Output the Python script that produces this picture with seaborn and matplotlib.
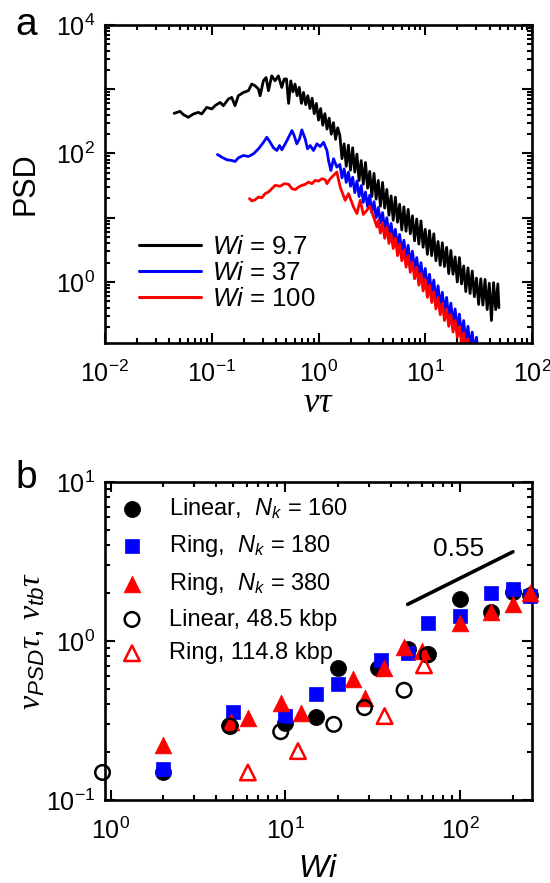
import numpy as np
import matplotlib
matplotlib.use("Agg")
import matplotlib.pyplot as plt
import matplotlib.ticker as mticker
import seaborn as sns

# ---------------- Panel a: PSD curves (log10 values) ----------------
wi97_log_nutau = [-1.353, -1.297, -1.266, -1.219, -1.172, -1.126, -1.094, -1.047, -1.0, -0.969,
                  -0.922, -0.891, -0.844, -0.813, -0.782, -0.751, -0.704, -0.657, -0.625, -0.594,
                  -0.563, -0.547, -0.516, -0.491, -0.469, -0.438, -0.407, -0.376, -0.344, -0.322,
                  -0.30, -0.28, -0.26, -0.24, -0.22, -0.20, -0.18, -0.16, -0.14, -0.12,
                  -0.10, -0.08, -0.06, -0.04, -0.02, 0.00, 0.02, 0.04, 0.06, 0.08,
                  0.10, 0.12, 0.14, 0.16, 0.18,
                  0.20, 0.22, 0.24, 0.26, 0.28, 0.30, 0.32, 0.34, 0.36, 0.38,
                  0.40, 0.42, 0.44, 0.46, 0.48, 0.50, 0.52, 0.54, 0.56, 0.58,
                  0.60, 0.62, 0.64, 0.66, 0.68, 0.70, 0.72, 0.74, 0.76, 0.78,
                  0.80, 0.82, 0.84, 0.86, 0.88, 0.90, 0.92, 0.94, 0.96, 0.98,
                  1.00, 1.02, 1.04, 1.06, 1.08, 1.10, 1.12, 1.14, 1.16, 1.18,
                  1.20, 1.22, 1.24, 1.26, 1.28, 1.30, 1.32, 1.34, 1.36, 1.38,
                  1.40, 1.42, 1.44, 1.46, 1.48, 1.50, 1.52, 1.54, 1.56, 1.58,
                  1.60, 1.62, 1.64, 1.66, 1.68, 1.69]
wi97_log_psd = [2.625, 2.656, 2.605, 2.563, 2.615, 2.640, 2.615, 2.718, 2.693, 2.744,
                2.795, 2.744, 2.848, 2.873, 2.744, 2.899, 2.950, 2.977, 3.081, 3.054,
                3.003, 2.899, 3.132, 3.183, 2.977, 3.209, 3.132, 3.209, 3.028, 3.158,
                3.16, 2.78, 3.13, 2.96, 3.08, 2.90, 3.03, 2.78, 2.95, 2.76,
                2.90, 2.70, 2.86, 2.62, 2.78, 2.52, 2.70, 2.44, 2.62, 2.38,
                2.55, 2.30, 2.48, 2.22, 2.40,
                2.28, 1.92, 2.15, 1.80, 2.13, 1.74, 2.09, 1.71, 1.99, 1.58,
                1.89, 1.52, 1.86, 1.46, 1.72, 1.33, 1.69, 1.29, 1.58, 1.18,
                1.55, 1.15, 1.44, 1.04, 1.34, 0.96, 1.32, 0.93, 1.21, 0.81,
                1.17, 0.79, 1.13, 0.75, 1.03, 0.64, 0.98, 0.59, 0.95, 0.54,
                0.82, 0.43, 0.80, 0.41, 0.75, 0.33, 0.63, 0.26, 0.61, 0.24,
                0.54, 0.13, 0.49, 0.12, 0.39, 0.00, 0.38, -0.03, 0.25, -0.15,
                0.22, -0.18, 0.17, -0.23, 0.06, -0.35, 0.05, -0.36, 0.04, -0.43,
                -0.02, -0.60, -0.01, -0.43, -0.03, -0.40]

wi37_log_nutau = [-0.947, -0.906, -0.859, -0.812, -0.781, -0.750, -0.703, -0.656, -0.609, -0.562,
                  -0.515, -0.484, -0.453, -0.422, -0.390, -0.365, -0.343, -0.312, -0.287, -0.249,
                  -0.228, -0.203, -0.178, -0.156, -0.125, -0.103, -0.078, -0.047, -0.015, 0.016,
                  0.047, 0.079, 0.094, 0.116, 0.141, 0.172,
                  0.20, 0.22, 0.24, 0.26, 0.28, 0.30, 0.32, 0.34, 0.36, 0.38,
                  0.40, 0.42, 0.44, 0.46, 0.48, 0.50, 0.52, 0.54, 0.56, 0.58,
                  0.60, 0.62, 0.64, 0.66, 0.68, 0.70, 0.72, 0.74, 0.76, 0.78,
                  0.80, 0.82, 0.84, 0.86, 0.88, 0.90, 0.92, 0.94, 0.96, 0.98,
                  1.00, 1.02, 1.04, 1.06, 1.08, 1.10, 1.12, 1.14, 1.16, 1.18,
                  1.20, 1.22, 1.24, 1.26, 1.28, 1.30, 1.32, 1.34, 1.36, 1.38,
                  1.40, 1.42, 1.44, 1.46, 1.48, 1.50]
wi37_log_psd = [1.984, 1.943, 1.902, 1.891, 1.876, 1.933, 1.969, 1.953, 1.995, 2.073,
                2.175, 2.253, 2.175, 2.088, 2.047, 2.124, 2.057, 2.150, 2.228, 2.357,
                2.279, 2.150, 2.228, 2.367, 2.228, 2.073, 2.124, 2.047, 2.150, 2.109,
                2.175, 2.047, 1.891, 1.736, 1.918, 1.787,
                1.83, 1.62, 1.76, 1.55, 1.71, 1.49, 1.63, 1.39, 1.57, 1.33,
                1.50, 1.24, 1.40, 1.17, 1.35, 1.08, 1.25, 1.00, 1.16, 0.92,
                1.08, 0.82, 1.00, 0.73, 0.91, 0.65, 0.82, 0.55, 0.74, 0.47,
                0.65, 0.37, 0.57, 0.28, 0.48, 0.19, 0.38, 0.09, 0.30, 0.00,
                0.21, -0.10, 0.12, -0.19, 0.03, -0.29, -0.06, -0.39, -0.16, -0.47,
                -0.24, -0.56, -0.33, -0.65, -0.42, -0.74, -0.50, -0.84, -0.60, -0.93,
                -0.69, -1.02, -0.78, -1.10, -0.86, -1.18]

wi100_log_nutau = [-0.647, -0.624, -0.593, -0.562, -0.531, -0.500, -0.469, -0.437, -0.406, -0.359,
                   -0.321, -0.280, -0.249, -0.218, -0.187, -0.156, -0.125, -0.094, -0.062, -0.031,
                   0.0, 0.032, 0.063, 0.079, 0.110, 0.141, 0.172,
                   0.203, 0.250, 0.281, 0.328, 0.360, 0.391, 0.42, 0.453, 0.48, 0.516, 0.547,
                   0.56, 0.58, 0.60, 0.62, 0.64, 0.66, 0.68, 0.70, 0.72, 0.74,
                   0.76, 0.78, 0.80, 0.82, 0.84, 0.86, 0.88, 0.90, 0.92, 0.94,
                   0.96, 0.98, 1.00, 1.02, 1.04, 1.06, 1.08, 1.10, 1.12, 1.14,
                   1.16, 1.18, 1.20, 1.22, 1.24, 1.26, 1.28, 1.30, 1.32, 1.34,
                   1.36, 1.38, 1.40, 1.42]
wi100_log_psd = [1.298, 1.261, 1.28, 1.323, 1.31, 1.375, 1.400, 1.452, 1.504, 1.49,
                 1.530, 1.52, 1.452, 1.437, 1.478, 1.504, 1.519, 1.555, 1.53, 1.581,
                 1.57, 1.608, 1.59, 1.530, 1.608, 1.659, 1.710,
                 1.478, 1.271, 1.375, 1.167, 1.065, 1.271, 1.05, 1.116, 1.18, 1.012, 0.857,
                 0.96, 0.76, 0.92, 0.68, 0.85, 0.60, 0.75, 0.52, 0.68, 0.41,
                 0.59, 0.33, 0.50, 0.23, 0.41, 0.15, 0.31, 0.05, 0.23, -0.05,
                 0.13, -0.14, 0.04, -0.24, -0.05, -0.32, -0.15, -0.42, -0.24, -0.51,
                 -0.33, -0.60, -0.42, -0.69, -0.51, -0.78, -0.60, -0.86, -0.69, -0.96,
                 -0.79, -1.05, -0.88, -1.12]

psd_labels = [r"$\mathsf{Wi}$ = 9.7", r"$\mathsf{Wi}$ = 37", r"$\mathsf{Wi}$ = 100"]
psd_colors = ["#000000", "#0000FF", "#FF0000"]

# ---------------- Panel b: characteristic frequencies ----------------
wi_lin160 = [2, 4.8, 10, 15, 20, 34, 50, 65, 100, 150, 200, 250]
nu_lin160 = [0.149, 0.292, 0.306, 0.334, 0.68, 0.68, 0.887, 0.824, 1.85, 1.53, 2.04, 1.94]
wi_ring180 = [2, 5, 10, 15, 20, 35, 50, 65, 100, 150, 200, 250]
nu_ring180 = [0.156, 0.36, 0.337, 0.466, 0.539, 0.76, 0.845, 1.29, 1.44, 2.01, 2.13, 1.92]
wi_ring380 = [2, 4.9, 6.1, 9.4, 12.2, 24.4, 28.6, 36.5, 47.5, 60.7, 100, 150, 200, 250]
nu_ring380 = [0.222, 0.31, 0.328, 0.41, 0.355, 0.58, 0.44, 0.68, 0.915, 0.865, 1.30, 1.52, 1.72, 2.0]
wi_lin485 = [0.9, 4.8, 9.4, 18.9, 28.3, 47.7, 64.8]
nu_lin485 = [0.149, 0.292, 0.269, 0.299, 0.381, 0.49, 0.817]
wi_ring1148 = [6.1, 11.8, 36.9, 62]
nu_ring1148 = [0.149, 0.203, 0.337, 0.703]
b_labels = [r"Linear,  $\mathsf{N_k}$ = 160", r"Ring,  $\mathsf{N_k}$ = 180",
            r"Ring,  $\mathsf{N_k}$ = 380", "Linear, 48.5 kbp", "Ring, 114.8 kbp"]
slope_wi = [50, 200]
slope_nu = [1.70, 3.64]
slope_label = "0.55"

# ---------------- style ----------------
sns.set_style("ticks")
plt.rcParams['font.family'] = ['Liberation Sans', 'DejaVu Sans']
plt.rcParams['mathtext.fontset'] = 'custom'
plt.rcParams['mathtext.rm'] = 'Liberation Sans'
plt.rcParams['mathtext.it'] = 'Liberation Serif:italic'
plt.rcParams['mathtext.sf'] = 'Liberation Sans:italic'
plt.rcParams['mathtext.bf'] = 'Liberation Sans:bold'
plt.rcParams['axes.linewidth'] = 1.8
for key in ['text.color', 'axes.labelcolor', 'xtick.color', 'ytick.color', 'axes.edgecolor']:
    plt.rcParams[key] = 'black'

fig = plt.figure(figsize=(5.5, 8.83), dpi=100)
W, H = 550.0, 883.0
axA = fig.add_axes([105 / W, 1 - 343 / H, 427 / W, 318 / H])
axB = fig.add_axes([105 / W, 1 - 800 / H, 427 / W, 318 / H])


def sci(v, pos):
    e = int(np.round(np.log10(v)))
    return r'$\mathdefault{10^{%d}}$' % e


def sci_even(v, pos):
    e = int(np.round(np.log10(v)))
    if e % 2:
        return ''
    return r'$\mathdefault{10^{%d}}$' % e


# ---- panel a ----
for lx, ly, lab, col in zip([wi97_log_nutau, wi37_log_nutau, wi100_log_nutau],
                            [wi97_log_psd, wi37_log_psd, wi100_log_psd],
                            psd_labels, psd_colors):
    sns.lineplot(x=10 ** np.array(lx), y=10 ** np.array(ly), color=col, lw=2.0,
                 sort=False, estimator=None, label=lab, ax=axA)

axA.set_xscale('log')
axA.set_yscale('log')
axA.set_xlim(1e-2, 1e2)
axA.set_ylim(10 ** -0.95, 1e4)
axA.xaxis.set_major_locator(mticker.LogLocator(base=10, numticks=20))
axA.xaxis.set_minor_locator(mticker.LogLocator(base=10, subs=np.arange(2, 10), numticks=50))
axA.xaxis.set_major_formatter(mticker.FuncFormatter(sci))
axA.xaxis.set_minor_formatter(mticker.NullFormatter())
axA.yaxis.set_major_locator(mticker.LogLocator(base=10, numticks=20))
axA.yaxis.set_minor_locator(mticker.LogLocator(base=10, subs=np.arange(2, 10), numticks=50))
axA.yaxis.set_major_formatter(mticker.FuncFormatter(sci_even))
axA.yaxis.set_minor_formatter(mticker.NullFormatter())
axA.set_xlabel(r'$\nu\tau$', fontsize=25)
axA.set_ylabel('PSD', fontsize=22)
axA.xaxis.set_label_coords(0.5, -0.135)
axA.yaxis.set_label_coords(-0.15, 0.5)
leg_a = axA.legend(loc='lower left', bbox_to_anchor=(0.08, 0.1), frameon=False, fontsize=18.5,
                   handlelength=2.4, handletextpad=0.45, labelspacing=0.08, borderaxespad=0,
                   borderpad=0)
for ln in leg_a.get_lines():
    ln.set_linewidth(2.2)

# ---- panel b ----
sns.lineplot(x=slope_wi, y=slope_nu, color='black', lw=2.6, estimator=None, ax=axB)
axB.text(98, 3.77, slope_label, fontsize=19, ha='center', va='center')

sns.scatterplot(x=wi_lin160, y=nu_lin160, marker='o', s=135, color='black',
                edgecolor='black', linewidth=0.5, label=b_labels[0], ax=axB, zorder=3, clip_on=False)
sns.scatterplot(x=wi_ring180, y=nu_ring180, marker='s', s=105, color='#0000FF',
                edgecolor='#0000FF', linewidth=0.5, label=b_labels[1], ax=axB, zorder=3, clip_on=False)
sns.scatterplot(x=wi_ring380, y=nu_ring380, marker='^', s=145, color='#FF0000',
                edgecolor='#FF0000', linewidth=0.5, label=b_labels[2], ax=axB, zorder=3, clip_on=False)
sns.scatterplot(x=wi_lin485, y=nu_lin485, marker='o', s=110, color='black',
                edgecolor='black', linewidth=1.8, label=b_labels[3], ax=axB, zorder=3, clip_on=False)
axB.collections[-1].set_facecolor('none')
axB.collections[-1].set_edgecolor('black')
sns.scatterplot(x=wi_ring1148, y=nu_ring1148, marker='^', s=125, color='#FF0000',
                edgecolor='#FF0000', linewidth=1.8, label=b_labels[4], ax=axB, zorder=3, clip_on=False)
axB.collections[-1].set_facecolor('none')
axB.collections[-1].set_edgecolor('#FF0000')

axB.set_xscale('log')
axB.set_yscale('log')
axB.set_xlim(0.93, 257)
axB.set_ylim(0.1, 10)
axB.xaxis.set_major_locator(mticker.LogLocator(base=10, numticks=20))
axB.xaxis.set_minor_locator(mticker.LogLocator(base=10, subs=np.arange(2, 10), numticks=50))
axB.xaxis.set_major_formatter(mticker.FuncFormatter(sci))
axB.xaxis.set_minor_formatter(mticker.NullFormatter())
axB.yaxis.set_major_locator(mticker.LogLocator(base=10, numticks=20))
axB.yaxis.set_minor_locator(mticker.LogLocator(base=10, subs=np.arange(2, 10), numticks=50))
axB.yaxis.set_major_formatter(mticker.FuncFormatter(sci))
axB.yaxis.set_minor_formatter(mticker.NullFormatter())
axB.set_xlabel(r'$\mathsf{Wi}$', fontsize=23)
axB.set_ylabel(r'$\nu_{\mathsf{PSD}}\tau$, $\nu_{\mathsf{tb}}\tau$', fontsize=23)
axB.xaxis.set_label_coords(0.5, -0.17)
axB.yaxis.set_label_coords(-0.135, 0.5)

handles, labels = axB.get_legend_handles_labels()
axB.legend(handles, labels, loc='upper left', bbox_to_anchor=(0.03, 0.955), frameon=False,
           fontsize=17, handlelength=1.2, handletextpad=0.95, labelspacing=0.5,
           borderaxespad=0, borderpad=0, scatterpoints=1)

for ax in (axA, axB):
    for sp in ax.spines.values():
        sp.set_linewidth(1.9)
        sp.set_color('black')
        sp.set_visible(True)
    ax.tick_params(which='both', direction='in', top=True, right=True, width=1.5,
                   colors='black', labelsize=18)
    ax.tick_params(which='major', length=7.5)
    ax.tick_params(which='minor', length=3.8)
    ax.tick_params(axis='x', which='both', pad=13)
    ax.tick_params(axis='y', which='both', pad=7)

fig.text(26 / W, 1 - 25 / H, 'a', fontsize=28, ha='center', va='center')
fig.text(26 / W, 1 - 478 / H, 'b', fontsize=28, ha='center', va='center')

fig.savefig('out.png', dpi=100)
